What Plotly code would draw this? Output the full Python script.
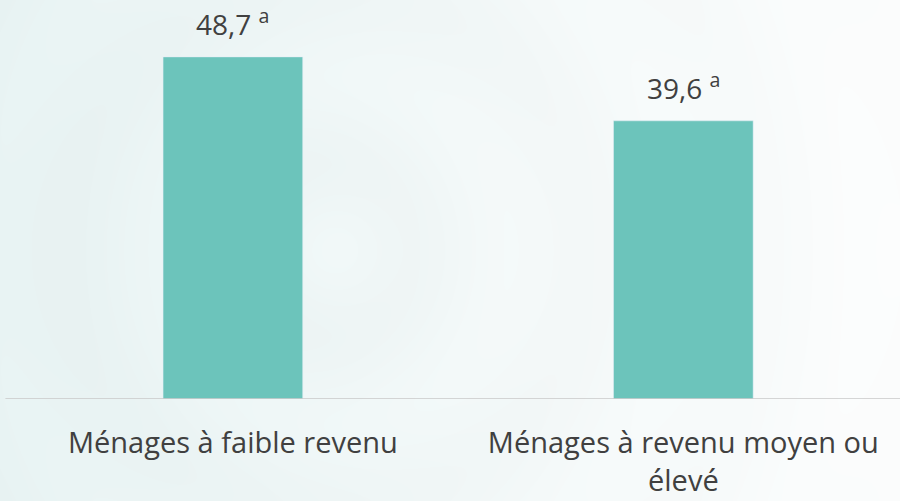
import plotly.graph_objects as go
import numpy as np, zlib, struct, base64

categories = ["Ménages à faible revenu", "Ménages à revenu moyen ou<br>élevé"]
values = [48.7, 39.6]
value_labels = ["48,7", "39,6"]
note = "a"

# --- decorative background (soft radial gradient) ---
W, H = 900, 501
yy, xx = np.mgrid[0:H, 0:W].astype(float)
t = xx / W
base = np.stack([232 + 20 * t, 243 + 10 * t, 243 + 10 * t], axis=-1)
r = np.hypot(xx - 330, yy - 250)
ring = 2.0 * np.cos(r / 28.0) * np.exp(-r / 500)
img = np.clip(base + ring[..., None], 0, 255).astype(np.uint8)

def png_bytes(a):
    h, w, _ = a.shape
    raw = b"".join(b"\x00" + a[i].tobytes() for i in range(h))
    def chunk(tag, data):
        c = struct.pack(">I", len(data)) + tag + data
        return c + struct.pack(">I", zlib.crc32(tag + data) & 0xffffffff)
    return (b"\x89PNG\r\n\x1a\n" + chunk(b"IHDR", struct.pack(">IIBBBBB", w, h, 8, 2, 0, 0, 0))
            + chunk(b"IDAT", zlib.compress(raw, 9)) + chunk(b"IEND", b""))

bg = "data:image/png;base64," + base64.b64encode(png_bytes(img)).decode()

FONT = "Open Sans"
MB = 102
PH = H - MB
fig = go.Figure(go.Bar(
    x=categories, y=values, marker_color="#6CC4BB", width=0.31,
    hoverinfo="skip",
))
for c, v, lab in zip(categories, values, value_labels):
    fig.add_annotation(x=c, y=v, text=f"{lab} <sup>{note}</sup>", showarrow=False,
                       yanchor="bottom", yshift=12,
                       font=dict(family=FONT, size=28, color="#404040"))
fig.add_shape(type="line", xref="paper", yref="y", x0=0.006, x1=1, y0=0, y1=0,
              line=dict(color="#C8C8C8", width=1.5))
fig.update_layout(
    width=W, height=H,
    margin=dict(l=0, r=0, t=0, b=MB),
    paper_bgcolor="rgba(0,0,0,0)", plot_bgcolor="rgba(0,0,0,0)",
    images=[dict(source=bg, xref="paper", yref="paper", x=0, y=1, sizex=1, sizey=H / PH,
                 xanchor="left", yanchor="top", layer="below", sizing="stretch")],
    showlegend=False,
    font=dict(family=FONT, color="#404040"),
    xaxis=dict(range=[-0.517, 1.481], showgrid=False, showline=False,
               ticks="outside", ticklen=18, tickcolor="rgba(0,0,0,0)",
               tickfont=dict(size=29, family=FONT, color="#404040"), fixedrange=True),
    yaxis=dict(range=[0, 56.8], visible=False, fixedrange=True),
)
fig.write_html("out.html", config={"displayModeBar": False},
               post_script="document.body.style.margin='0';document.body.style.overflow='hidden';")
